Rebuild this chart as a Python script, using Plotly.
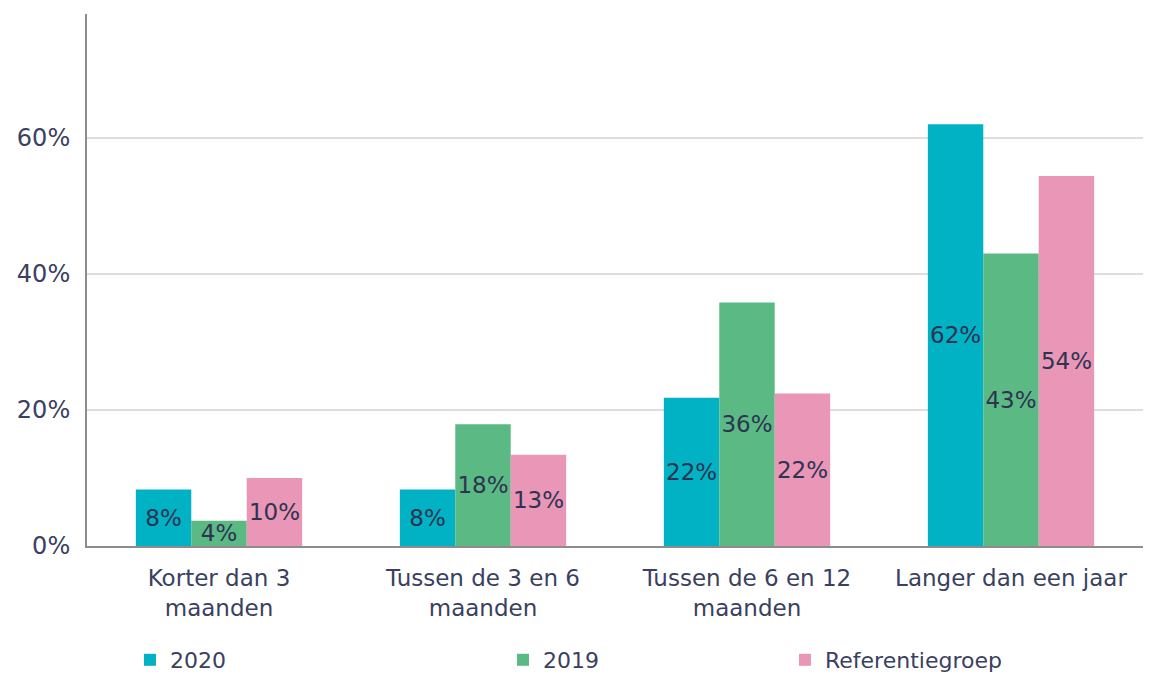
import plotly.graph_objects as go

categories = ["Korter dan 3<br>maanden", "Tussen de 3 en 6<br>maanden",
              "Tussen de 6 en 12<br>maanden", "Langer dan een jaar"]
series_names = ["2020", "2019", "Referentiegroep"]
values_2020 = [8.3, 8.3, 21.8, 62.0]
values_2019 = [3.7, 17.9, 35.8, 43.0]
values_ref = [10.0, 13.4, 22.4, 54.4]
colors = ["#00B2C3", "#5BBA84", "#E996B7"]
y_ticks = [0, 20, 40, 60]
y_tick_labels = ["0%", "20%", "40%", "60%"]

font_family = "DejaVu Sans, Verdana, sans-serif"
text_color = "#3A4160"

FIG_W, FIG_H = 1135, 667
PX0, PY0 = 87, 14       # plot left/top in page px
PX1, PY1 = 1143, 546    # plot right/bottom in page px
W, H = PX1 - PX0, PY1 - PY0

fig = go.Figure()
legend_ids = ["legend", "legend2", "legend3"]
for name, vals, col, lg in zip(series_names, [values_2020, values_2019, values_ref], colors, legend_ids):
    fig.add_trace(go.Bar(
        x=categories, y=vals, name=name, marker=dict(color=col, line=dict(width=0)),
        texttemplate="%{y:.0f}%", textposition="inside", insidetextanchor="middle",
        constraintext="none", textangle=0,
        textfont=dict(family=font_family, size=23, color="#2E3352"),
        legend=lg, showlegend=True,
    ))

legend_common = dict(orientation="h", yanchor="middle", xanchor="left",
                     font=dict(family=font_family, size=22, color=text_color),
                     bgcolor="rgba(0,0,0,0)", itemwidth=30)
ly = -(660 - PY1) / H
fig.update_layout(
    width=FIG_W, height=FIG_H,
    margin=dict(l=PX0 - 8, r=0, t=PY0 - 8, b=FIG_H - (PY1 - 8), autoexpand=False),
    paper_bgcolor="white", plot_bgcolor="white",
    showlegend=True,
    barmode="group", bargap=0.37, bargroupgap=0,
    font=dict(family=font_family, size=22, color=text_color),
    legend=dict(x=(130 - PX0) / W, y=ly, **legend_common),
    legend2=dict(x=(503 - PX0) / W, y=ly, **legend_common),
    legend3=dict(x=(785 - PX0) / W, y=ly, **legend_common),
    xaxis=dict(showline=True, linecolor="#8C8C8C", linewidth=2,
               tickfont=dict(family=font_family, size=23, color=text_color),
               ticks="", showgrid=False, automargin=False, ticklabelstandoff=10),
    yaxis=dict(range=[0, 78.2], tickvals=y_ticks, ticktext=y_tick_labels,
               showline=True, linecolor="#8C8C8C", linewidth=2,
               showgrid=True, gridcolor="#DDDDDD", gridwidth=2,
               zeroline=False, ticks="", ticklabelstandoff=10, automargin=False,
               tickfont=dict(family=font_family, size=24, color=text_color)),
)

fig.write_html("out.html")
